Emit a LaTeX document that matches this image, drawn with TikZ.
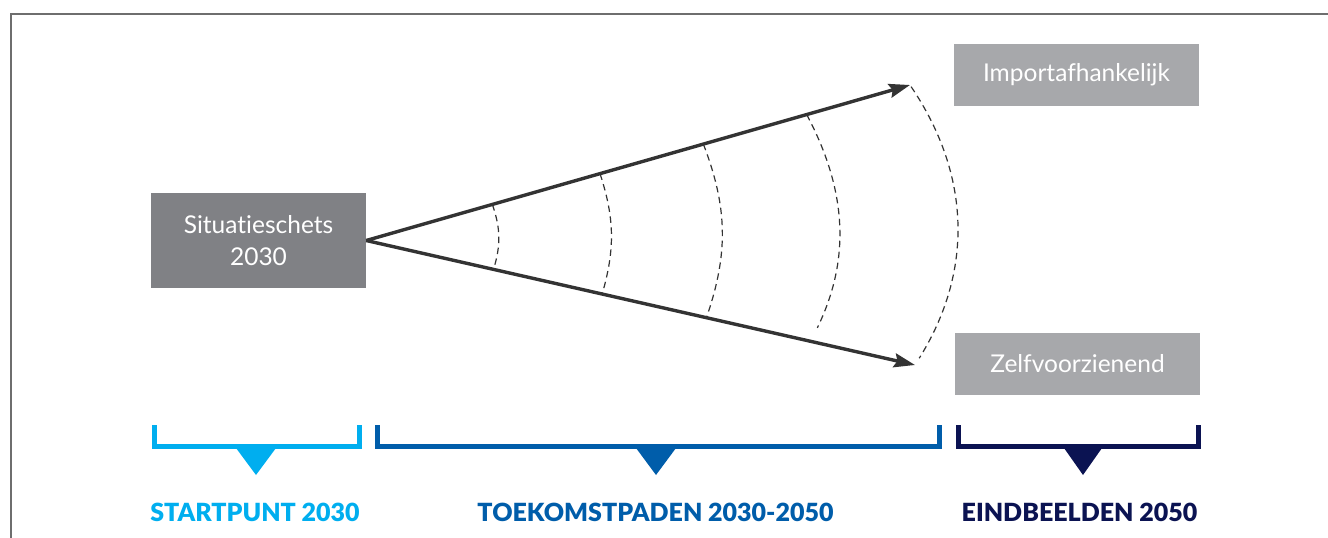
\documentclass[tikz,border=0pt]{standalone}
\usepackage{fontspec}
\setmainfont{Lato}[Ligatures=NoCommon, BoldFont={Lato Black}]
\usetikzlibrary{arrows.meta, calc}

\definecolor{framegray}{HTML}{6E6E6E}
\definecolor{darkbox}{HTML}{808185}
\definecolor{lightbox}{HTML}{A7A8AB}
\definecolor{pathgray}{HTML}{333333}
\definecolor{startblue}{HTML}{00AEEF}
\definecolor{padenblue}{HTML}{005DAA}
\definecolor{eindnavy}{HTML}{0B1352}

\begin{document}
\begin{tikzpicture}[
    x=1pt, y=1pt,
    startbox/.style={rectangle, fill=darkbox, minimum width=215pt, minimum height=95pt, text=white, font=\fontsize{24.5}{32}\selectfont, align=center, inner sep=0pt},
    endbox/.style={rectangle, fill=lightbox, minimum width=245pt, minimum height=62pt, text=white, font=\fontsize{24.5}{28}\selectfont, inner sep=0pt},
    pathline/.style={pathgray, line width=3.4pt, -{Stealth[length=21pt, width=14pt, inset=3pt]}},
    tracks/.style={pathgray, line width=1.2pt, dash pattern=on 6.5pt off 4.5pt},
    bracket/.style={line width=5pt, miter limit=10},
    phase/.style={font=\fontsize{25}{28}\selectfont\bfseries, inner sep=0pt}
]
\useasboundingbox (0,0) rectangle (1328,-538);

% ==================== FRAME ====================
\draw[framegray, line width=1.5pt] (11,-538) -- (11,-14) -- (1328,-14);

% ==================== SITUATIE EN EINDBEELDEN ====================
\node[startbox] (sit) at (258.5,-240.5) {Situatieschets\\2030};
\node[endbox] (import) at (1076.5,-75) {Importafhankelijk};
\node[endbox] (zelf) at (1077.5,-364) {Zelfvoorzienend};

\coordinate (tipI) at (910,-85);
\coordinate (tipZ) at (915,-365);

% ==================== TOEKOMSTPADEN ====================
\draw[pathline] (sit.east) -- (tipI);
\draw[pathline] (sit.east) -- (tipZ);

% tussenliggende momenten
\foreach \t/\b/\s in {0.232/18/0, 0.43/17/0, 0.62/20/0, 0.81/27/15}
    \draw[tracks, shorten >=\s pt] ($(sit.east)!\t!(tipI)$) to[bend left=\b] ($(sit.east)!\t!(tipZ)$);
\draw[tracks, shorten <=2pt, shorten >=8pt] (tipI) to[bend left=33] (tipZ);

% ==================== FASEN ====================
% startpunt
\draw[bracket, startblue] (154.5,-425) |- (359.5,-446.5) -- (359.5,-425);
\fill[startblue] (236,-448) -- (276,-448) -- (256,-475) -- cycle;
\node[phase, text=startblue] (startpunt) at (255,-512) {STARTPUNT 2030};

% toekomstpaden
\draw[bracket, padenblue] (377,-425) |- (939.5,-446.5) -- (939.5,-425);
\fill[padenblue] (636,-448) -- (676,-448) -- (656,-475) -- cycle;
\node[phase, text=padenblue] (paden) at (655.5,-512) {TOEKOMSTPADEN 2030-2050};

% eindbeelden
\draw[bracket, eindnavy] (958.5,-425) |- (1198.5,-446.5) -- (1198.5,-425);
\fill[eindnavy] (1064,-448) -- (1102,-448) -- (1083,-475) -- cycle;
\node[phase, text=eindnavy] (eind) at (1079.5,-512) {EINDBEELDEN 2050};

\end{tikzpicture}
\end{document}
